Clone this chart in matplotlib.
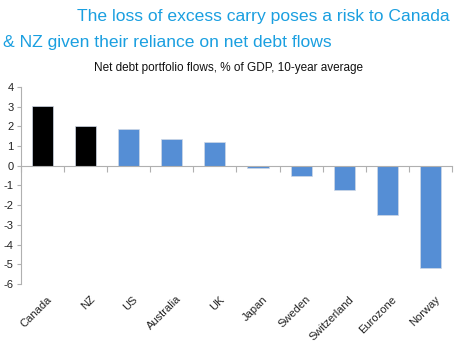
import numpy as np
import matplotlib.pyplot as plt
import matplotlib.transforms as mtransforms

plt.rcParams['font.family'] = ['Liberation Sans', 'DejaVu Sans']

# Net debt portfolio flows, % of GDP, 10-year average
countries = ['Canada', 'NZ', 'US', 'Australia', 'UK', 'Japan', 'Sweden',
             'Switzerland', 'Eurozone', 'Norway']
flows = [3.05, 2.03, 1.88, 1.36, 1.19, -0.13, -0.54, -1.22, -2.49, -5.2]
highlight = ['Canada', 'NZ']

colors = ['#000000' if c in highlight else '#558ed5' for c in countries]

fig = plt.figure(figsize=(4.71, 3.46), dpi=100)
ax = fig.add_axes([0.044, 0.179, 0.916, 0.57])

x = np.arange(len(countries))
ax.bar(x, flows, width=0.49, color=colors, edgecolor='#cfd8e6', linewidth=0.5)

ax.set_xlim(-0.5, len(countries) - 0.5)
ax.set_ylim(-6, 4)
ax.set_yticks(range(-6, 5))
ax.set_yticklabels([str(v) for v in range(-6, 5)])

# tick marks at category boundaries on the zero line
ax.set_xticks([])
ax.set_xticks(np.arange(-0.5, len(countries)), minor=True)
ax.tick_params(axis='x', which='minor', length=4, color='#b0b0b0', width=0.8,
               direction='out')
ax.tick_params(axis='y', length=3, color='#b0b0b0', width=0.8, labelsize=8,
               labelcolor='#222222', pad=2)

# rotated category labels below the plot area
trans = mtransforms.blended_transform_factory(ax.transData, ax.transAxes)
offset = mtransforms.ScaledTranslation(4 / 100, -10 / 100, fig.dpi_scale_trans)
for xi, name in zip(x, countries):
    ax.text(xi, 0, name, transform=trans + offset, rotation=45,
            rotation_mode='anchor', ha='right', va='top', fontsize=8,
            color='#222222')

for side in ['top', 'right']:
    ax.spines[side].set_visible(False)
ax.spines['bottom'].set_position(('data', 0))
ax.spines['bottom'].set_color('#b0b0b0')
ax.spines['left'].set_color('#b0b0b0')
ax.spines['bottom'].set_linewidth(0.8)
ax.spines['left'].set_linewidth(0.8)

fig.text(77 / 471, 1 - 21 / 346, 'The loss of excess carry poses a risk to Canada',
         color='#1a9fe0', fontsize=12.6, ha='left', va='baseline')
fig.text(3 / 471, 1 - 47 / 346, '& NZ given their reliance on net debt flows',
         color='#1a9fe0', fontsize=12.6, ha='left', va='baseline')
fig.text(228 / 471, 1 - 71 / 346, 'Net debt portfolio flows, % of GDP, 10-year average',
         color='#111111', fontsize=8.5, ha='center', va='baseline')

fig.savefig('out.png', dpi=100)
